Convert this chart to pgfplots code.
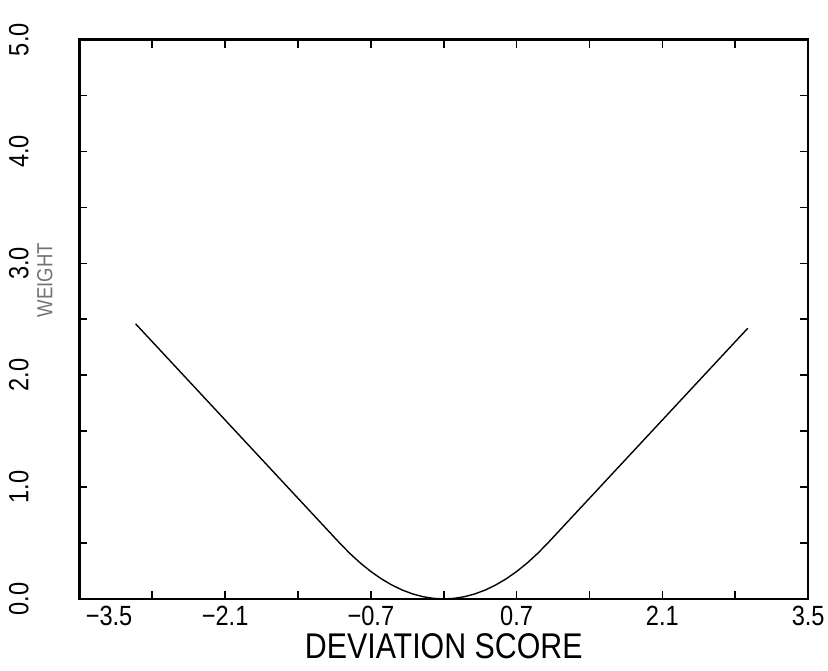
\documentclass[border=0pt]{standalone}
\usepackage{fontspec}
\setmainfont[FakeStretch=0.85]{Liberation Sans}
\usepackage{pgfplots}
\pgfplotsset{compat=1.18}

\pgfplotstableread{
x w
-2.96 2.46
-2.5 2.00
-2.0 1.50
-1.5 1.00
-1.2 0.70
-1.0 0.50
-0.9 0.405
-0.8 0.32
-0.7 0.245
-0.6 0.18
-0.5 0.125
-0.4 0.08
-0.3 0.045
-0.2 0.02
-0.1 0.005
0.0 0.0
0.1 0.005
0.2 0.02
0.3 0.045
0.4 0.08
0.5 0.125
0.6 0.18
0.7 0.245
0.8 0.32
0.9 0.405
1.0 0.50
1.2 0.70
1.5 1.00
2.0 1.50
2.5 2.00
2.92 2.42
}\weights

\begin{document}
\begin{tikzpicture}
\begin{axis}[
    name=ax,
    scale only axis,
    width=367.5pt, height=282pt,
    xmin=-3.5, xmax=3.5, ymin=0, ymax=5,
    axis line style={line width=1.2pt},
    tick style={black, line width=0.8pt},
    major tick length=4pt, minor tick length=4pt,
    tick pos=both, tick align=inside,
    xtick={-3.5,-2.1,-0.7,0.7,2.1,3.5},
    xticklabels={\hspace*{30pt}−3.5,−2.1,−0.7,0.7,2.1,3.5},
    minor xtick={-2.8,-1.4,0,1.4,2.8},
    ytick={0,1,2,3,4,5},
    yticklabels={0.0,1.0,2.0,3.0,4.0,5.0},
    minor ytick={0.5,1.5,2.5,3.5,4.5},
    ticklabel style={font=\fontsize{14}{16}\selectfont},
    yticklabel style={rotate=90, anchor=south, yshift=22pt},
    xlabel={DEVIATION SCORE},
    xlabel style={font=\fontsize{18}{20}\selectfont, yshift=3pt},
    ylabel={WEIGHT},
    ylabel style={font=\fontsize{11}{13}\selectfont, text=black!55,
        at={(axis description cs:-0.027,0.57)}, anchor=south},
]
\addplot[black, line width=0.7pt] table[x=x, y=w] {\weights};
\end{axis}
\pgfresetboundingbox
\path[use as bounding box] ([shift={(-40pt,-36pt)}]ax.south west) rectangle ([shift={(10pt,20pt)}]ax.north east);
\end{tikzpicture}
\end{document}
